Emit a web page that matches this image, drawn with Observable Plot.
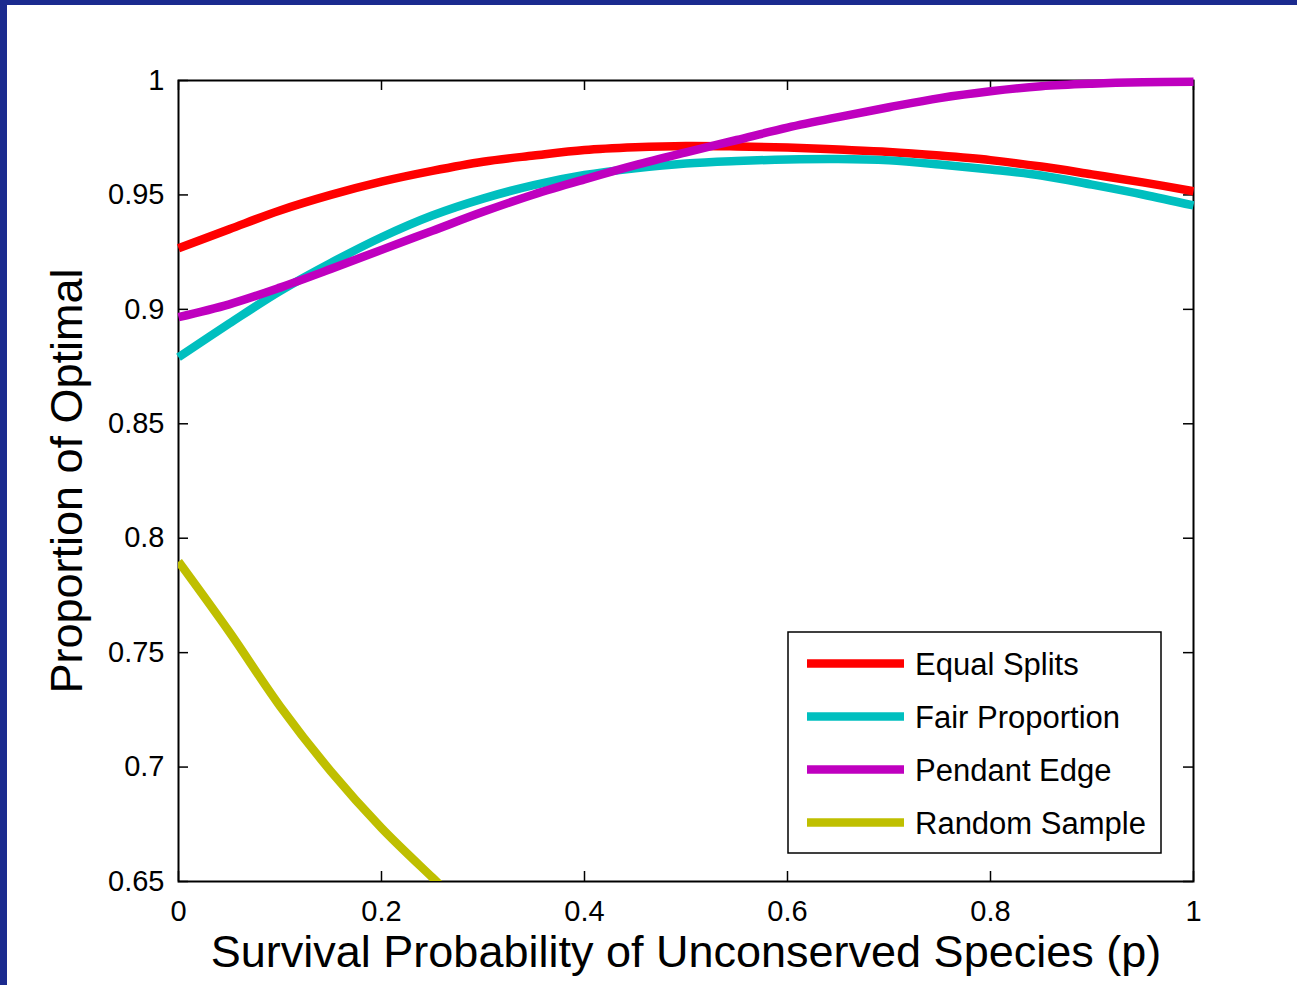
<!DOCTYPE html>
<html>
<head>
<meta charset="utf-8">
<script src="https://cdn.jsdelivr.net/npm/d3@7"></script>
<script src="https://cdn.jsdelivr.net/npm/@observablehq/plot@0.6"></script>
<style>
html, body { margin: 0; padding: 0; background: #ffffff; width: 1297px; height: 985px; overflow: hidden; }
#chart { position: absolute; left: 0; top: 0; }
.border-top { position: absolute; left: 0; top: 0; width: 1297px; height: 5px; background: #1b2b8f; }
.border-left { position: absolute; left: 0; top: 0; width: 7px; height: 985px; background: #1b2b8f; }
</style>
</head>
<body>
<div id="chart"></div>
<div class="border-top"></div>
<div class="border-left"></div>
<script>
// ---- data ----
const pValues = [0, 0.05, 0.1, 0.15, 0.2, 0.25, 0.3, 0.35, 0.4, 0.45, 0.5, 0.55, 0.6, 0.65, 0.7, 0.75, 0.8, 0.85, 0.9, 0.95, 1];
const equalSplits = [0.9267, 0.9350, 0.9432, 0.9500, 0.9558, 0.9605, 0.9645, 0.9672, 0.9696, 0.9708, 0.9714, 0.9712, 0.9707, 0.9698, 0.9688, 0.9672, 0.9652, 0.9624, 0.9590, 0.9555, 0.9516];
const fairProportion = [0.8791, 0.8938, 0.9080, 0.9203, 0.9315, 0.9410, 0.9484, 0.9543, 0.9587, 0.9616, 0.9637, 0.9648, 0.9655, 0.9657, 0.9651, 0.9633, 0.9611, 0.9585, 0.9545, 0.9502, 0.9454];
const pendantEdge = [0.8966, 0.9022, 0.9095, 0.9176, 0.9260, 0.9343, 0.9426, 0.9502, 0.9568, 0.9630, 0.9686, 0.9740, 0.9794, 0.9840, 0.9883, 0.9923, 0.9953, 0.9975, 0.9986, 0.9992, 0.9994];
const randomP = [0, 0.05, 0.1, 0.15, 0.2, 0.25, 0.26];
const randomSample = [0.7898, 0.7591, 0.7266, 0.6982, 0.6734, 0.6518, 0.6475];

const seriesNames = ["Equal Splits", "Fair Proportion", "Pendant Edge", "Random Sample"];
const seriesColors = ["#ff0000", "#00bfbf", "#bf00bf", "#bfbf00"];

const xTicks = [0, 0.2, 0.4, 0.6, 0.8, 1];
const xTickLabels = ["0", "0.2", "0.4", "0.6", "0.8", "1"];
const yTicks = [0.65, 0.7, 0.75, 0.8, 0.85, 0.9, 0.95, 1];
const yTickLabels = ["0.65", "0.7", "0.75", "0.8", "0.85", "0.9", "0.95", "1"];

const xLabel = "Survival Probability of Unconserved Species (p)";
const yLabel = "Proportion of Optimal";

// ---- build tables ----
const mainRows = [];
[equalSplits, fairProportion, pendantEdge].forEach((vals, k) => {
  vals.forEach((v, i) => mainRows.push({p: pValues[i], v, s: seriesNames[k]}));
});
const randomRows = randomSample.map((v, i) => ({p: randomP[i], v, s: seriesNames[3]}));

// ---- layout ----
const W = 1297, H = 985;
const mL = 178, mR = 104, mT = 80, mB = 104;
const iw = W - mL - mR;
const ih = H - mT - mB;
const FONT = "'Liberation Sans', Arial, Helvetica, sans-serif";
const tickLen = 10;
const LW = 8.5;

const chart = Plot.plot({
  width: W,
  height: H,
  marginLeft: mL,
  marginRight: mR,
  marginTop: mT,
  marginBottom: mB,
  style: {fontFamily: FONT, background: "transparent", color: "black", overflow: "visible"},
  x: {domain: [0, 1]},
  y: {domain: [0.65, 1]},
  color: {domain: seriesNames, range: seriesColors},
  marks: [
    Plot.frame({stroke: "black", strokeWidth: 2}),
    // inward ticks on all four sides
    Plot.ruleX(xTicks, {x: d => d, insetTop: ih - tickLen, stroke: "black", strokeWidth: 1.5}),
    Plot.ruleX(xTicks, {x: d => d, insetBottom: ih - tickLen, stroke: "black", strokeWidth: 1.5}),
    Plot.ruleY(yTicks, {y: d => d, insetRight: iw - tickLen, stroke: "black", strokeWidth: 1.5}),
    Plot.ruleY(yTicks, {y: d => d, insetLeft: iw - tickLen, stroke: "black", strokeWidth: 1.5}),
    Plot.line(mainRows, {x: "p", y: "v", z: "s", stroke: "s", strokeWidth: LW, curve: "catmull-rom", strokeLinecap: "butt", strokeLinejoin: "round"}),
    Plot.line(randomRows, {x: "p", y: "v", z: "s", stroke: "s", strokeWidth: LW, curve: "catmull-rom", strokeLinecap: "butt", strokeLinejoin: "round", clip: true}),
    Plot.axisX({ticks: xTicks, tickFormat: (d) => xTickLabels[xTicks.indexOf(d)], tickSize: 0, tickPadding: 19, fontSize: 29, label: null}),
    Plot.axisY({ticks: yTicks, tickFormat: (d) => yTickLabels[yTicks.indexOf(d)], tickSize: 0, tickPadding: 14, fontSize: 29, label: null}),
    Plot.text([xLabel], {text: d => d, frameAnchor: "bottom", dy: 54, lineAnchor: "top", textAnchor: "middle", fontSize: 45, fill: "black"}),
    Plot.text([yLabel], {text: d => d, frameAnchor: "left", dx: -128, rotate: -90, lineAnchor: "top", textAnchor: "middle", fontSize: 45, fill: "black"})
  ]
});
document.getElementById("chart").appendChild(chart);

// ---- legend (drawn into the same svg) ----
const svg = d3.select(chart);
const lg = svg.append("g").attr("font-family", FONT).attr("text-anchor", "start");
const boxX = 788, boxY = 632, boxW = 373, boxH = 221;
lg.append("rect").attr("x", boxX).attr("y", boxY).attr("width", boxW).attr("height", boxH)
  .attr("fill", "white").attr("stroke", "black").attr("stroke-width", 1.5);
seriesNames.forEach((name, i) => {
  const cy = 663.5 + i * 53;
  lg.append("line").attr("x1", 807).attr("x2", 904).attr("y1", cy).attr("y2", cy)
    .attr("stroke", seriesColors[i]).attr("stroke-width", LW);
  lg.append("text").attr("x", 915).attr("y", cy + 11).attr("font-size", 31)
    .attr("text-anchor", "start").attr("fill", "black").text(name);
});
</script>
</body>
</html>
